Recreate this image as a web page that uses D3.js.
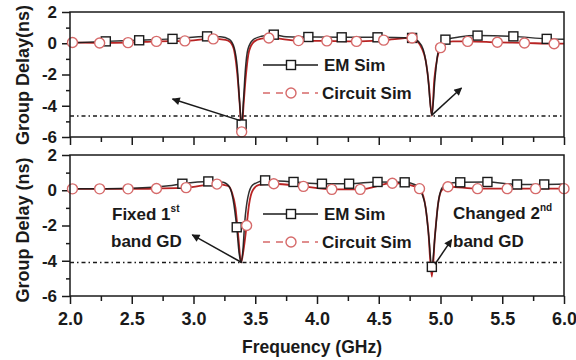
<!DOCTYPE html>
<html><head><meta charset="utf-8">
<script src="https://cdn.jsdelivr.net/npm/d3@7"></script>
<style>
body{margin:0;background:#fff;}
text{font-family:"Liberation Sans",Arial,sans-serif;font-weight:bold;fill:#1a1a1a;}
</style></head><body>
<svg id="c" width="576" height="360"></svg>
<script>
// ---- data ----
const xTicksMajor = [2.0,2.5,3.0,3.5,4.0,4.5,5.0,5.5,6.0];
const xTicksMinor = [2.25,2.75,3.25,3.75,4.25,4.75,5.25,5.75];
const yTicksMajor = [-6,-4,-2,0,2];
const yTicksMinor = [-5,-3,-1,1];

// top panel lines
const emTopLine = [[2.0,0.02],[2.29,0.12],[2.56,0.19],[2.83,0.28],[3.11,0.44],[3.22,0.42],[3.29,0.25],[3.33,-0.3],[3.355,-1.6],[3.373,-3.7],[3.39,-5.2],[3.405,-3.6],[3.42,-1.7],[3.44,-0.4],[3.48,0.2],[3.55,0.45],[3.65,0.55],[3.75,0.42],[3.93,0.4],[4.2,0.38],[4.49,0.38],[4.77,0.34],[4.82,0.12],[4.86,-0.4],[4.895,-1.9],[4.93,-4.6],[4.955,-2.3],[4.98,-0.6],[5.04,0.23],[5.15,0.4],[5.30,0.49],[5.59,0.44],[5.86,0.28],[6.0,0.25]];
const circTopLine = [[2.0,0.05],[2.24,0.02],[2.47,0.04],[2.70,0.12],[2.93,0.15],[3.16,0.28],[3.26,0.22],[3.30,0.05],[3.33,-0.5],[3.355,-2.0],[3.375,-4.0],[3.39,-5.7],[3.405,-4.0],[3.425,-2.0],[3.45,-0.5],[3.49,0.1],[3.55,0.3],[3.61,0.34],[3.85,0.17],[4.08,0.15],[4.32,0.12],[4.54,0.2],[4.77,0.34],[4.81,0.15],[4.85,-0.35],[4.88,-1.1],[4.905,-2.6],[4.93,-4.65],[4.95,-2.3],[4.975,-0.9],[5.0,-0.28],[5.04,0.02],[5.1,0.12],[5.22,0.12],[5.46,0.06],[5.68,0.02],[5.92,-0.03],[6.0,-0.02]];
const emTopMarks = [[2.29,0.12],[2.56,0.19],[2.83,0.28],[3.11,0.44],[3.39,-5.2],[3.65,0.55],[3.93,0.4],[4.20,0.38],[4.49,0.38],[4.77,0.34],[5.04,0.23],[5.30,0.49],[5.59,0.44],[5.86,0.28]];
const circTopMarks = [[2.02,0.05],[2.24,0.02],[2.47,0.04],[2.70,0.12],[2.93,0.15],[3.16,0.28],[3.39,-5.67],[3.61,0.34],[3.85,0.17],[4.08,0.15],[4.32,0.12],[4.54,0.2],[4.77,0.34],[5.00,-0.28],[5.22,0.12],[5.46,0.06],[5.68,0.02],[5.92,-0.03]];
const refTop = -4.65;

// bottom panel lines
const emBotLine = [[2.0,0.08],[2.5,0.12],[2.8,0.25],[2.91,0.37],[3.12,0.5],[3.24,0.45],[3.29,0.2],[3.32,-0.5],[3.35,-2.1],[3.37,-3.6],[3.385,-4.1],[3.40,-3.4],[3.415,-1.8],[3.44,-0.4],[3.48,0.3],[3.58,0.56],[3.81,0.47],[4.04,0.37],[4.26,0.37],[4.49,0.47],[4.71,0.45],[4.80,0.3],[4.85,-0.2],[4.88,-1.0],[4.905,-2.6],[4.93,-4.4],[4.955,-2.6],[4.98,-0.8],[5.01,0.1],[5.05,0.35],[5.16,0.45],[5.38,0.47],[5.62,0.33],[5.84,0.33],[6.0,0.35]];
const circBotLine = [[2.0,0.08],[2.24,0.08],[2.47,0.08],[2.70,0.1],[2.94,0.15],[3.19,0.35],[3.28,0.25],[3.31,-0.1],[3.34,-1.0],[3.365,-2.8],[3.385,-4.1],[3.405,-3.4],[3.43,-2.0],[3.45,-0.8],[3.48,0.0],[3.53,0.3],[3.65,0.37],[3.89,0.22],[4.12,0.05],[4.35,0.05],[4.61,0.4],[4.75,0.3],[4.83,0.09],[4.87,-0.6],[4.9,-2.2],[4.93,-4.9],[4.955,-2.6],[4.98,-0.8],[5.01,0.0],[5.06,0.2],[5.30,0.09],[5.54,0.09],[5.77,0.09],[6.0,0.09]];
const emBotMarks = [[2.91,0.37],[3.12,0.5],[3.35,-2.1],[3.58,0.56],[3.81,0.47],[4.04,0.37],[4.26,0.37],[4.49,0.47],[4.71,0.45],[4.93,-4.35],[5.16,0.45],[5.38,0.47],[5.62,0.33],[5.84,0.33]];
const circBotMarks = [[2.02,0.08],[2.24,0.08],[2.47,0.08],[2.70,0.1],[2.94,0.15],[3.19,0.35],[3.43,-2.0],[3.65,0.37],[3.89,0.22],[4.12,0.05],[4.35,0.05],[4.61,0.4],[4.83,0.09],[5.06,0.2],[5.30,0.09],[5.54,0.09],[5.77,0.09],[6.0,0.09]];
const refBot = -4.1;

const seriesNames = ["EM Sim","Circuit Sim"];

// ---- drawing ----
const svg = d3.select("#c");
const x = d3.scaleLinear([2,6],[70,564]);
const yTop = d3.scaleLinear([-6,2],[137,12]);
const yBot = d3.scaleLinear([-6,2],[296,155]);
const RED = "#b82424", PINK = "#d66a6a", BLK = "#1a1a1a";

svg.append("defs").append("marker").attr("id","ah")
  .attr("viewBox","0 0 10 10").attr("refX",9).attr("refY",5)
  .attr("markerWidth",11).attr("markerHeight",8).attr("markerUnits","userSpaceOnUse")
  .attr("orient","auto")
  .append("path").attr("d","M0,0 L10,5 L0,10 Z").attr("fill",BLK);

function panel(y, emLine, circLine, emMarks, circMarks, ref, showX, legendY, title, titleY){
  const g = svg.append("g");
  const yMaj = d3.axisLeft(y).tickValues(yTicksMajor).tickSize(8).tickPadding(5).tickFormat(d=>String(d));
  const yMin = d3.axisLeft(y).tickValues(yTicksMinor).tickSize(4).tickFormat("");
  const xMaj = d3.axisBottom(x).tickValues(xTicksMajor).tickSize(8).tickPadding(8).tickFormat(showX? d3.format(".1f") : "");
  const xMin = d3.axisBottom(x).tickValues(xTicksMinor).tickSize(5).tickFormat("");
  const axes = [
    g.append("g").attr("transform","translate(70,0)").call(yMaj),
    g.append("g").attr("transform","translate(70,0)").call(yMin),
    g.append("g").attr("transform",`translate(0,${y(-6)})`).call(xMaj),
    g.append("g").attr("transform",`translate(0,${y(-6)})`).call(xMin)
  ];
  axes.forEach((a,i)=>{
    a.select(".domain").remove();
    a.selectAll("line").attr("stroke",BLK).attr("stroke-width",1.5);
    a.selectAll("text").attr("font-size", i===2 ? 18 : 17).attr("fill",BLK)
      .style("font-family","'Liberation Sans',Arial,sans-serif").style("font-weight","bold");
  });
  g.append("line").attr("x1",x(2)).attr("x2",x(6)).attr("y1",y(ref)).attr("y2",y(ref))
    .attr("stroke",BLK).attr("stroke-width",1.5).attr("stroke-dasharray","4,3,1.5,3");
  const line = d3.line().x(d=>x(d[0])).y(d=>y(d[1])).curve(d3.curveMonotoneX);
  g.append("path").datum(circLine).attr("d",line).attr("fill","none").attr("stroke",RED).attr("stroke-width",1.8);
  g.append("path").datum(emLine).attr("d",line).attr("fill","none").attr("stroke",BLK).attr("stroke-width",1.5).attr("stroke-opacity",0.9);
  g.selectAll(".sq").data(emMarks).join("rect").attr("class","sq")
    .attr("x",d=>x(d[0])-4.5).attr("y",d=>y(d[1])-4.5).attr("width",9).attr("height",9)
    .attr("fill","#fff").attr("stroke",BLK).attr("stroke-width",1.4);
  g.selectAll(".ci").data(circMarks).join("circle").attr("class","ci")
    .attr("cx",d=>x(d[0])).attr("cy",d=>y(d[1])).attr("r",5)
    .attr("fill","#fff").attr("stroke",PINK).attr("stroke-width",1.4);
  g.append("rect").attr("x",70).attr("y",y(2)).attr("width",x(6)-70).attr("height",y(-6)-y(2))
    .attr("fill","none").attr("stroke",BLK).attr("stroke-width",1.5);
  const lx0 = 263, lx1 = 318, lm = 291;
  const L = g.append("g");
  L.append("line").attr("x1",lx0).attr("x2",lx1).attr("y1",legendY).attr("y2",legendY).attr("stroke",BLK).attr("stroke-width",1.5);
  L.append("rect").attr("x",lm-4.5).attr("y",legendY-4.5).attr("width",9).attr("height",9).attr("fill","#fff").attr("stroke",BLK).attr("stroke-width",1.4);
  L.append("text").attr("x",lx1+6).attr("y",legendY+6).attr("font-size",17).text(seriesNames[0]);
  const ly2 = legendY+28;
  L.append("line").attr("x1",lx0).attr("x2",lx1).attr("y1",ly2).attr("y2",ly2).attr("stroke",PINK).attr("stroke-width",1.5).attr("stroke-dasharray","7,6");
  L.append("circle").attr("cx",lm).attr("cy",ly2).attr("r",5).attr("fill","#fff").attr("stroke",PINK).attr("stroke-width",1.4);
  L.append("text").attr("x",lx1+4).attr("y",ly2+6).attr("font-size",17).text(seriesNames[1]);
  svg.append("text").attr("transform",`translate(29,${titleY}) rotate(-90)`).attr("text-anchor","middle")
    .attr("font-size",18).text(title);
  return g;
}

panel(yTop, emTopLine, circTopLine, emTopMarks, circTopMarks, refTop, false, 65, "Group Delay(ns)", 75);
panel(yBot, emBotLine, circBotLine, emBotMarks, circBotMarks, refBot, true, 214, "Group Delay (ns)", 230);

function arrow(y, a, b){
  svg.append("line").attr("x1",x(a[0])).attr("y1",y(a[1])).attr("x2",x(b[0])).attr("y2",y(b[1]))
    .attr("stroke",BLK).attr("stroke-width",1.5).attr("marker-end","url(#ah)");
}
arrow(yTop,[3.38,-4.95],[2.83,-3.57]);
arrow(yTop,[4.93,-4.6],[5.17,-2.86]);
arrow(yBot,[3.39,-4.1],[2.99,-2.53]);
arrow(yBot,[4.955,-4.2],[5.09,-2.8]);

const t1 = svg.append("text").attr("x",112).attr("y",220).attr("font-size",17);
t1.append("tspan").text("Fixed 1");
t1.append("tspan").attr("font-size",10).attr("dy",-8).text("st");
svg.append("text").attr("x",111).attr("y",247).attr("font-size",17).text("band GD");
const t2 = svg.append("text").attr("x",453).attr("y",219).attr("font-size",17);
t2.append("tspan").text("Changed 2");
t2.append("tspan").attr("font-size",10).attr("dy",-8).text("nd");
svg.append("text").attr("x",453).attr("y",247).attr("font-size",17).text("band GD");

svg.append("text").attr("x",312).attr("y",353).attr("text-anchor","middle").attr("font-size",17.5).text("Frequency (GHz)");
</script>
</body></html>
